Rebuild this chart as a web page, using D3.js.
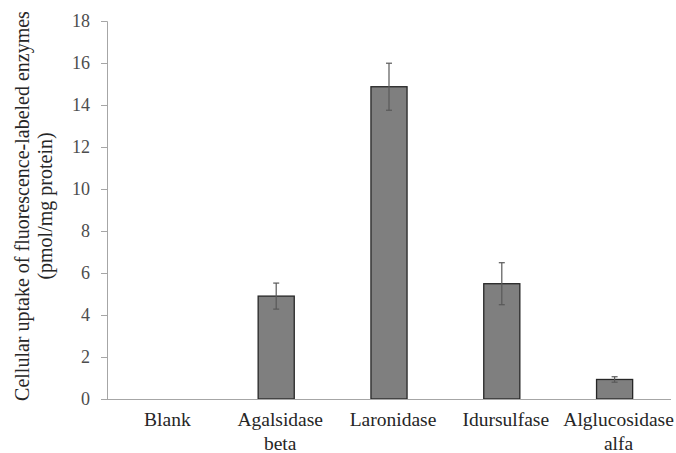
<!DOCTYPE html>
<html>
<head>
<meta charset="utf-8">
<script src="https://cdn.jsdelivr.net/npm/d3@7"></script>
<style>
body { margin:0; background:#fff; }
</style>
</head>
<body>
<svg id="chart"></svg>
<script>
var categories = [["Blank"], ["Agalsidase", "beta"], ["Laronidase"], ["Idursulfase"], ["Alglucosidase", "alfa"]];
var uptake = [0, 4.9, 14.87, 5.49, 0.93];
var errors = [0, 0.62, 1.12, 1.0, 0.13];
var yTicks = [0, 2, 4, 6, 8, 10, 12, 14, 16, 18];

var font = "Liberation Serif";

var screen = {width:676, height:453};
var margins = {top:21, bottom:54, left:107, right:5};
var graph = {
    width:screen.width-margins.left-margins.right,
    height:screen.height-margins.top-margins.bottom
};

var rows = categories.map(function(c, i)
{
    return {name:c.join(" "), lines:c, value:uptake[i], err:errors[i]};
});

var svg = d3.select("#chart")
    .attr("width", screen.width)
    .attr("height", screen.height)
    .attr("font-family", font);

var xBase = d3.scaleBand()
    .domain(rows.map(function(d){ return d.name }))
    .range([0, graph.width])
    .paddingInner(0.68)
    .paddingOuter(0.34);

var y = d3.scaleLinear()
    .domain([0, 18])
    .range([graph.height, 0]);

var g = svg.append("g")
    .attr("transform", "translate("+margins.left+","+margins.top+")");

//y axis
var yAxis = g.append("g")
    .call(d3.axisLeft(y).tickValues(yTicks).tickSize(6).tickPadding(11).tickFormat(d3.format("d")))
    .attr("font-family", font)
    .attr("font-size", 18);
yAxis.selectAll("line, path").attr("stroke", "#a6a6a6");
yAxis.select(".domain").attr("d", "M-6,0.5H0.5V"+(graph.height+0.5));
yAxis.selectAll("text")
    .attr("font-family", font)
    .attr("font-size", 18)
    .attr("fill", "#4d4d4d");

//bars
g.selectAll("rect.bar")
    .data(rows)
    .enter()
    .append("rect")
    .attr("class", "bar")
    .attr("x", function(d){ return xBase(d.name) })
    .attr("y", function(d){ return y(d.value) })
    .attr("width", xBase.bandwidth())
    .attr("height", function(d){ return graph.height - y(d.value) })
    .attr("fill", function(d){ return d.value > 0 ? "#7f7f7f" : "none" })
    .attr("stroke", function(d){ return d.value > 0 ? "#262626" : "none" })
    .attr("stroke-width", 1.3);

//error bars
var eb = g.selectAll("g.err")
    .data(rows.filter(function(d){ return d.err > 0 }))
    .enter()
    .append("g")
    .attr("class", "err")
    .attr("stroke", "#595959")
    .attr("stroke-width", 1.2);

eb.append("line")
    .attr("x1", function(d){ return xBase(d.name)+xBase.bandwidth()/2 })
    .attr("x2", function(d){ return xBase(d.name)+xBase.bandwidth()/2 })
    .attr("y1", function(d){ return y(d.value+d.err) })
    .attr("y2", function(d){ return y(d.value-d.err) });

[1, -1].forEach(function(s)
{
    eb.append("line")
        .attr("x1", function(d){ return xBase(d.name)+xBase.bandwidth()/2-3 })
        .attr("x2", function(d){ return xBase(d.name)+xBase.bandwidth()/2+3 })
        .attr("y1", function(d){ return y(d.value+s*d.err) })
        .attr("y2", function(d){ return y(d.value+s*d.err) });
});

//x axis
g.append("line")
    .attr("x1", 0)
    .attr("x2", graph.width)
    .attr("y1", graph.height+0.5)
    .attr("y2", graph.height+0.5)
    .attr("stroke", "#a6a6a6")
    .attr("stroke-width", 1.2);

var xl = g.selectAll("text.cat")
    .data(rows)
    .enter()
    .append("text")
    .attr("class", "cat")
    .attr("text-anchor", "middle")
    .attr("y", graph.height+27)
    .attr("fill", "#262626")
    .attr("font-family", font)
    .attr("font-size", 19.5);

xl.selectAll("tspan")
    .data(function(d){ return d.lines.map(function(l){ return {l:l, x:xBase(d.name)+xBase.bandwidth()/2+4} }) })
    .enter()
    .append("tspan")
    .attr("x", function(d){ return d.x })
    .attr("dy", function(d, i){ return i ? 24 : 0 })
    .text(function(d){ return d.l });

//y title
var title = svg.append("text")
    .attr("transform", "translate(29,206) rotate(-90)")
    .attr("text-anchor", "middle")
    .attr("fill", "#262626")
    .attr("font-family", font)
    .attr("font-size", 20);
title.append("tspan").attr("x", 0).attr("dy", 0).text("Cellular uptake of fluorescence-labeled enzymes");
title.append("tspan").attr("x", 0).attr("dy", 23).text("(pmol/mg protein)");
</script>
</body>
</html>
